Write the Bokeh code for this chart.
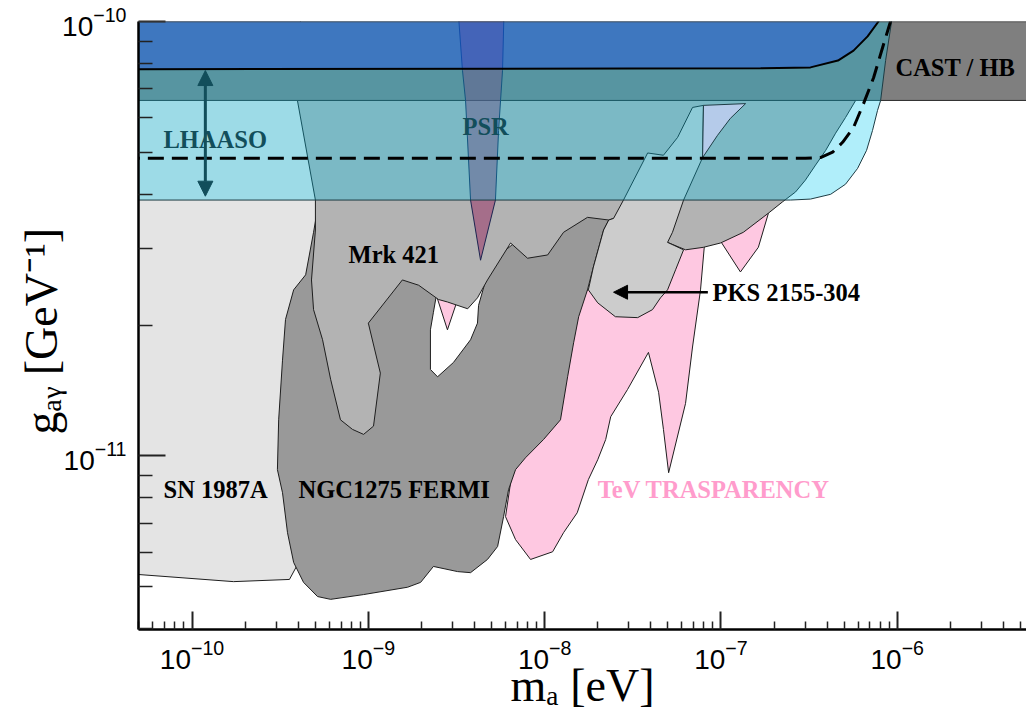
from bokeh.plotting import figure
from bokeh.models import Range1d, FixedTicker, Arrow, NormalHead, Span
from bokeh.core.properties import value
from bokeh.embed import file_html
from bokeh.resources import INLINE

# ---------------- data (axion mass m_a [eV], coupling g_agamma [GeV^-1]) ----------------
MASS_DECADES = [1e-10, 1e-9, 1e-8, 1e-7, 1e-6]
G_DECADES = [1e-11, 1e-10]

# SN 1987A exclusion (lower edge; extends up behind the other bounds)
sn_edge = [(3e-11, 5.41e-12), (1.72e-10, 5.13e-12), (3.57e-10, 5.19e-12), (3.96e-10, 5.61e-12),
           (4.12e-10, 1.03e-11), (5.21e-10, 2.29e-11), (5.36e-10, 3.88e-11), (4.12e-10, 6.58e-11),
           (4.12e-10, 1.2e-10), (3e-11, 1.2e-10)]

# TeV transparency hint region
tev_edge = [(6.84e-9, 9.53e-12), (9.48e-9, 1.50e-11), (1.50e-8, 2.29e-11), (2.07e-8, 2.54e-11),
            (3.99e-8, 2.61e-11), (5.31e-8, 2.90e-11), (6.71e-8, 3.14e-11), (1.68e-7, 3.58e-11),
            (1.86e-7, 3.62e-11), (1.63e-7, 3.02e-11), (1.29e-7, 2.65e-11), (9.95e-8, 3.12e-11),
            (8.07e-8, 3.07e-11), (7.66e-8, 2.41e-11), (6.90e-8, 1.78e-11), (6.30e-8, 1.32e-11),
            (5.05e-8, 9.14e-12), (4.72e-8, 1.15e-11), (4.43e-8, 1.40e-11), (3.88e-8, 1.73e-11),
            (2.95e-8, 1.42e-11), (2.37e-8, 1.23e-11), (2.22e-8, 1.09e-11), (2.00e-8, 9.79e-12),
            (1.77e-8, 8.81e-12), (1.53e-8, 7.39e-12), (1.28e-8, 6.65e-12), (1.11e-8, 6.01e-12),
            (8.32e-9, 5.77e-12), (6.84e-9, 6.41e-12), (6.00e-9, 7.24e-12), (6.41e-9, 8.67e-12)]
tev_notch = [(2.44e-9, 2.33e-11), (2.81e-9, 1.95e-11), (3.21e-9, 2.29e-11)]

# NGC1275 Fermi-LAT exclusion
ngc_edge = [(5.08e-10, 3.58e-11), (4.89e-10, 3.27e-11), (4.41e-10, 2.61e-11), (3.77e-10, 2.41e-11),
            (3.39e-10, 2.06e-11), (3.26e-10, 1.66e-11), (3.10e-10, 1.21e-11), (3.05e-10, 9.29e-12),
            (3.26e-10, 8.22e-12), (3.48e-10, 6.65e-12), (3.77e-10, 5.68e-12), (4.29e-10, 5.11e-12),
            (5.15e-10, 4.74e-12), (6.11e-10, 4.67e-12), (9.40e-10, 4.79e-12), (1.67e-9, 4.98e-12),
            (1.98e-9, 5.11e-12), (2.34e-9, 5.56e-12), (3.21e-9, 5.41e-12), (3.80e-9, 5.38e-12),
            (4.74e-9, 5.77e-12), (5.41e-9, 6.18e-12), (5.85e-9, 7.24e-12), (6.24e-9, 8.35e-12),
            (6.84e-9, 9.29e-12), (7.78e-9, 9.89e-12), (9.86e-9, 1.09e-11), (1.23e-8, 1.21e-11),
            (1.35e-8, 1.52e-11), (1.46e-8, 1.82e-11), (1.56e-8, 2.09e-11), (1.75e-8, 2.41e-11),
            (1.89e-8, 2.72e-11), (2.16e-8, 3.31e-11), (2.31e-8, 3.49e-11), (2.22e-8, 3.64e-11),
            (1.23e-8, 3.58e-11), (8.00e-9, 3.27e-11), (4.93e-9, 2.79e-11), (4.56e-9, 2.48e-11),
            (4.22e-9, 2.22e-11), (4.16e-9, 2.02e-11), (3.80e-9, 1.85e-11), (3.04e-9, 1.64e-11),
            (2.47e-9, 1.52e-11), (2.25e-9, 1.58e-11), (2.25e-9, 1.95e-11), (2.34e-9, 2.14e-11),
            (2.44e-9, 2.36e-11), (1.98e-9, 2.65e-11), (1.34e-9, 2.65e-11), (6.11e-10, 3.14e-11)]

# Mrk 421 exclusion
mrk_edge = [(3.96e-10, 6.58e-11), (5.81e-7, 6.58e-11), (5.09e-7, 6.01e-11), (4.47e-7, 5.53e-11),
            (3.93e-7, 5.05e-11), (3.44e-7, 4.67e-11), (3.01e-7, 4.31e-11), (2.65e-7, 4.05e-11),
            (2.23e-7, 3.84e-11), (1.86e-7, 3.62e-11), (1.34e-7, 3.27e-11), (9.95e-8, 3.09e-11),
            (7.96e-8, 3.02e-11), (6.30e-8, 2.98e-11), (4.98e-8, 3.10e-11), (3.50e-8, 3.27e-11),
            (2.46e-8, 3.52e-11), (2.31e-8, 3.49e-11), (1.75e-8, 3.54e-11), (1.28e-8, 3.27e-11),
            (1.04e-8, 2.90e-11), (8.00e-9, 2.85e-11), (6.41e-9, 3.09e-11), (4.74e-9, 2.54e-11),
            (4.16e-9, 2.31e-11), (3.66e-9, 2.18e-11), (2.81e-9, 2.26e-11), (2.50e-9, 2.29e-11),
            (1.93e-9, 2.47e-11), (1.56e-9, 2.54e-11), (1.00e-9, 2.02e-11), (1.17e-9, 1.55e-11),
            (1.07e-9, 1.17e-11), (9.40e-10, 1.12e-11), (8.13e-10, 1.15e-11), (6.95e-10, 1.21e-11),
            (6.11e-10, 1.50e-11), (5.50e-10, 1.85e-11), (4.89e-10, 2.17e-11), (4.76e-10, 2.54e-11),
            (5.01e-10, 3.31e-11), (5.01e-10, 3.88e-11)]

# PKS 2155-304 exclusion
pks_edge = [(2.31e-8, 3.49e-11), (2.46e-8, 3.52e-11), (2.80e-8, 3.88e-11), (3.84e-8, 4.98e-11),
            (4.72e-8, 4.92e-11), (5.68e-8, 5.41e-11), (6.90e-8, 6.34e-11), (7.96e-8, 6.41e-11),
            (7.87e-8, 4.86e-11), (6.14e-8, 3.88e-11), (5.31e-8, 3.27e-11), (4.98e-8, 3.10e-11),
            (6.14e-8, 2.98e-11), (5.53e-8, 2.68e-11), (4.98e-8, 2.41e-11), (4.54e-8, 2.31e-11),
            (4.09e-8, 2.17e-11), (3.37e-8, 2.08e-11), (2.52e-8, 2.09e-11), (2.00e-8, 2.25e-11),
            (1.77e-8, 2.41e-11), (1.89e-8, 2.72e-11), (2.16e-8, 3.31e-11)]

# small additional bound near 1e-7 eV
blob_edge = [(7.96e-8, 6.41e-11), (1.38e-7, 6.47e-11), (1.13e-7, 5.98e-11), (9.57e-8, 5.47e-11),
             (7.87e-8, 4.86e-11)]

# PSR (pulsar) bound
psr_edge = [(3.16e-9, 1.2e-10), (3.42e-9, 7.71e-11), (3.56e-9, 6.58e-11), (3.80e-9, 3.88e-11),
            (4.33e-9, 2.82e-11), (5.26e-9, 3.88e-11), (5.48e-9, 5.61e-11), (5.77e-9, 7.71e-11),
            (5.93e-9, 1.2e-10)]

# CAST / HB limit
CAST_HB_G = 6.58e-11

# LHAASO sensitivity: lower edge, median (dashed), upper edge
lhaaso_low = [(3e-11, 3.88e-11), (2.48e-7, 3.88e-11), (3.22e-7, 3.90e-11), (4.19e-7, 4.00e-11),
              (5.09e-7, 4.22e-11), (5.96e-7, 4.59e-11), (6.70e-7, 5.05e-11), (7.24e-7, 5.61e-11),
              (7.73e-7, 6.24e-11), (8.05e-7, 6.58e-11), (8.59e-7, 8.13e-11), (9.29e-7, 1.0e-10),
              (9.40e-7, 1.2e-10)]
lhaaso_mid = [(3e-11, 4.84e-11), (3.01e-7, 4.84e-11), (3.67e-7, 4.86e-11), (4.30e-7, 5.00e-11),
              (4.90e-7, 5.27e-11), (5.65e-7, 5.70e-11), (6.44e-7, 6.47e-11), (7.35e-7, 7.43e-11),
              (8.26e-7, 8.71e-11), (9.16e-7, 1.0e-10), (9.3e-7, 1.1e-10)]
lhaaso_up = [(3e-11, 7.76e-11), (1.68e-7, 7.80e-11), (3.22e-7, 7.84e-11), (4.61e-7, 8.13e-11),
             (5.65e-7, 8.57e-11), (6.79e-7, 9.24e-11), (7.83e-7, 1.0e-10), (7.94e-7, 1.2e-10)]

# ---------------- figure ----------------
def unzip(edge):
    return [m for m, g in edge], [g for m, g in edge]

W, H = 1026, 713
p = figure(width=W, height=H, x_axis_type="log", y_axis_type="log",
           x_range=Range1d(4.97e-11, 5.41e-6), y_range=Range1d(3.98e-12, 1e-10),
           output_backend="svg", toolbar_location=None,
           min_border_left=138, min_border_right=0, min_border_top=21, min_border_bottom=83)
p.grid.visible = False
p.outline_line_color = None
p.background_fill_color = "white"
p.border_fill_color = "white"

p.xaxis.ticker = FixedTicker(ticks=MASS_DECADES,
                             minor_ticks=[k * 10.0 ** e for e in range(-11, -5) for k in range(2, 10)])
p.yaxis.ticker = FixedTicker(ticks=G_DECADES,
                             minor_ticks=[k * 10.0 ** e for e in (-12, -11) for k in range(2, 10)])
for ax in (p.xaxis[0], p.yaxis[0]):
    ax.axis_line_width = 2.5
    ax.axis_line_color = "black"
    ax.major_tick_out = 0
    ax.minor_tick_out = 0
    ax.major_tick_line_width = 2
    ax.minor_tick_line_width = 1.5
    ax.major_tick_line_color = "#222222"
    ax.minor_tick_line_color = "#222222"
    ax.major_label_text_font = "Liberation Sans"
    ax.major_label_text_font_size = "28px"
    ax.major_label_text_color = "black"
    ax.axis_label_text_font = "Liberation Serif"
    ax.axis_label_text_font_style = "normal"
    ax.axis_label_text_color = "black"
p.yaxis.major_tick_in = 27
p.yaxis.minor_tick_in = 14
p.xaxis.major_tick_in = 18
p.xaxis.minor_tick_in = 8
p.yaxis.major_label_standoff = 12
p.xaxis.major_label_standoff = 10

p.yaxis.axis_label = "gₐᵧ  [GeV⁻¹]"
p.yaxis.axis_label_text_font_size = "46px"
p.yaxis.axis_label_standoff = -8
p.xaxis.axis_label = "mₐ [eV]"
p.xaxis.axis_label_text_font_size = "46px"
p.xaxis.axis_label_standoff = -12

EDGE = "#1e1e1e"


def patch(edge, color, alpha=1.0, line_color=EDGE, line_width=1.0):
    xs, ys = unzip(edge)
    p.patch(xs, ys, fill_color=color, fill_alpha=alpha, line_color=line_color, line_width=line_width)


patch(sn_edge, "#e4e4e4")
patch(tev_edge, "#fec8e1")
patch(tev_notch, "#fec8e1")
patch(ngc_edge, "#999999")
patch(mrk_edge, "#b3b3b3")
patch(pks_edge, "#cccccc")
p.quad(left=[3e-11], right=[1e-5], bottom=[CAST_HB_G], top=[1.2e-10],
       fill_color="#7f7f7f", line_color="#2a2a2a", line_width=1)
patch(psr_edge, "#972961", alpha=0.5, line_color="#1c2450")
patch(lhaaso_low + [(3e-11, 1.2e-10)], "#00c8f0", alpha=0.31, line_color="#1d3c44")
patch(blob_edge, "#b5cbea", line_color="#1d3c44")
patch(lhaaso_up + [(3e-11, 1.2e-10)], "#1140f6", alpha=0.35, line_color=None)

ux, uy = unzip(lhaaso_up)
p.line(ux, uy, line_color="black", line_width=2)
mx, my = unzip(lhaaso_mid)
p.line(mx, my, line_color="black", line_width=3, line_dash="16 8")

p.add_layout(Span(location=1e-10, dimension="width", line_color="#444444", line_width=1.5))

# arrows
TEAL = "#124e5b"
p.add_layout(Arrow(start=NormalHead(size=15, fill_color=TEAL, line_color=TEAL),
                   end=NormalHead(size=15, fill_color=TEAL, line_color=TEAL),
                   x_start=1.19e-10, y_start=3.96e-11, x_end=1.19e-10, y_end=7.71e-11,
                   line_color=TEAL, line_width=3))
p.add_layout(Arrow(end=NormalHead(size=14, fill_color="black", line_color="black"),
                   x_start=8.43e-8, y_start=2.38e-11, x_end=2.46e-8, y_end=2.38e-11,
                   line_color="black", line_width=2.5))

# region labels
def lab(x, y, t, color="black", size="24.5px"):
    p.text(x=[x], y=[y], text=[t], text_font=value("Liberation Serif"), text_font_style="bold",
           text_font_size=size, text_color=color, text_baseline="middle", text_align="left")

lab(6.89e-11, 5.36e-11, "LHAASO", TEAL)
lab(3.42e-9, 5.74e-11, "PSR", TEAL)
lab(9.77e-7, 7.84e-11, "CAST / HB")
lab(7.73e-10, 2.91e-11, "Mrk 421")
lab(8.95e-8, 2.38e-11, "PKS 2155-304")
lab(6.89e-11, 8.35e-12, "SN 1987A")
lab(4.02e-10, 8.35e-12, "NGC1275 FERMI")
lab(2.00e-8, 8.35e-12, "TeV TRASPARENCY", "#ff9ccc")

open("out.html", "w").write(file_html(p, INLINE))
